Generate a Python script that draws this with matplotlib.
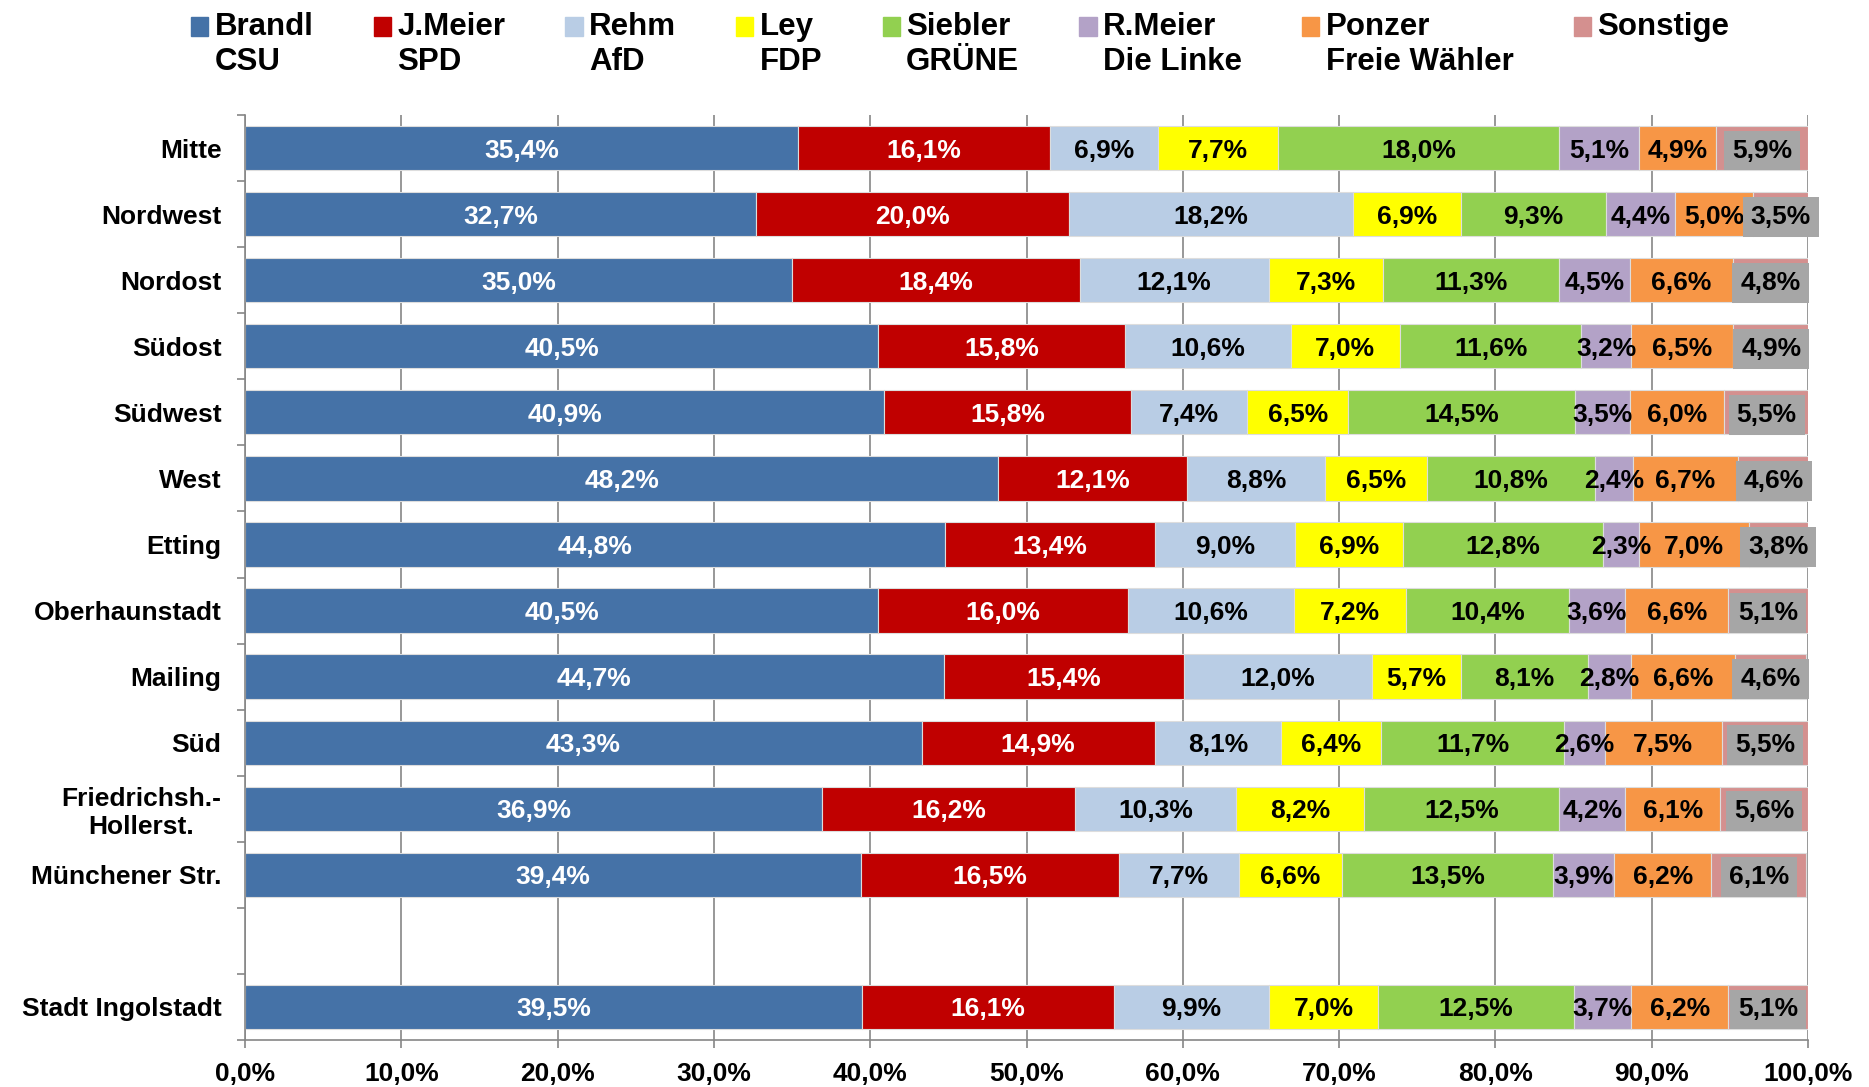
import numpy as np
import matplotlib.pyplot as plt
from matplotlib.patches import Rectangle
from matplotlib.legend_handler import HandlerPatch

plt.rcParams['font.family'] = ['Liberation Sans', 'DejaVu Sans']
plt.rcParams['font.weight'] = 'bold'

# Daten (Stimmanteile in %)
bezirke = ["Mitte", "Nordwest", "Nordost", "Südost", "Südwest", "West", "Etting",
           "Oberhaunstadt", "Mailing", "Süd", "Friedrichsh.-\nHollerst.",
           "Münchener Str.", "Stadt Ingolstadt"]
y_pos = [0, 1, 2, 3, 4, 5, 6, 7, 8, 9, 10, 11, 13]

kandidaten = ["Brandl\nCSU", "J.Meier\nSPD", "Rehm\nAfD", "Ley\nFDP", "Siebler\nGRÜNE",
              "R.Meier\nDie Linke", "Ponzer\nFreie Wähler", "Sonstige\n"]

brandl   = [35.4, 32.7, 35.0, 40.5, 40.9, 48.2, 44.8, 40.5, 44.7, 43.3, 36.9, 39.4, 39.5]
j_meier  = [16.1, 20.0, 18.4, 15.8, 15.8, 12.1, 13.4, 16.0, 15.4, 14.9, 16.2, 16.5, 16.1]
rehm     = [6.9, 18.2, 12.1, 10.6, 7.4, 8.8, 9.0, 10.6, 12.0, 8.1, 10.3, 7.7, 9.9]
ley      = [7.7, 6.9, 7.3, 7.0, 6.5, 6.5, 6.9, 7.2, 5.7, 6.4, 8.2, 6.6, 7.0]
siebler  = [18.0, 9.3, 11.3, 11.6, 14.5, 10.8, 12.8, 10.4, 8.1, 11.7, 12.5, 13.5, 12.5]
r_meier  = [5.1, 4.4, 4.5, 3.2, 3.5, 2.4, 2.3, 3.6, 2.8, 2.6, 4.2, 3.9, 3.7]
ponzer   = [4.9, 5.0, 6.6, 6.5, 6.0, 6.7, 7.0, 6.6, 6.6, 7.5, 6.1, 6.2, 6.2]
sonstige = [5.9, 3.5, 4.8, 4.9, 5.5, 4.6, 3.8, 5.1, 4.6, 5.5, 5.6, 6.1, 5.1]

serien = [brandl, j_meier, rehm, ley, siebler, r_meier, ponzer, sonstige]
farben = ['#4572A7', '#C00000', '#B9CDE5', '#FFFF00', '#92D050', '#B3A2C7', '#F79646', '#D4908F']
textfarben = ['white', 'white', 'black', 'black', 'black', 'black', 'black', 'black']

fig = plt.figure(figsize=(18.69, 10.87), dpi=100)
ax = fig.add_axes([245 / 1869, 1 - 1040 / 1087, (1808 - 245) / 1869, (1040 - 115) / 1087])

links = np.zeros(len(bezirke))
for werte, farbe, tf in zip(serien, farben, textfarben):
    werte = np.array(werte)
    ax.barh(y_pos, werte, left=links, height=0.67, color=farbe,
            edgecolor='#DDDDDD', linewidth=0.8, zorder=2)
    for y, l, w in zip(y_pos, links, werte):
        txt = f"{w:.1f}%".replace('.', ',')
        box = None
        if farbe == '#D4908F':
            # Sonstige: Beschriftung mit grauem Hintergrund
            box = dict(boxstyle='square,pad=0.3', facecolor='#A6A6A6', edgecolor='none')
        ax.text(l + w / 2, y, txt, ha='center', va='center_baseline', fontsize=19,
                color=tf, zorder=4, clip_on=False, bbox=box)
    links = links + werte

# Achsen
ax.set_xlim(0, 100)
ax.set_ylim(13.5, -0.5)
ax.set_xticks(np.arange(0, 101, 10))
ax.set_xticklabels([f"{v:.1f}%".replace('.', ',') for v in np.arange(0, 101, 10)], fontsize=19)
ax.set_yticks(y_pos)
ax.set_yticklabels(bezirke, fontsize=19)
for lab in ax.get_yticklabels():
    lab.set_multialignment('center')
ax.set_yticks(np.arange(-0.5, 14, 1), minor=True)
ax.tick_params(axis='y', which='major', length=0, pad=17)
ax.tick_params(axis='y', which='minor', length=6, width=1.2, color='#868686')
ax.tick_params(axis='x', length=6, width=1.2, color='#868686', pad=10)

ax.grid(axis='x', color='#868686', linewidth=1.2, zorder=0)
ax.set_axisbelow(True)
for s in ['top', 'right']:
    ax.spines[s].set_visible(False)
for s in ['left', 'bottom']:
    ax.spines[s].set_color('#868686')
    ax.spines[s].set_linewidth(1.2)


# Legende: Quadrat auf Höhe der ersten Zeile
def quadrat(legend, orig_handle, xdescent, ydescent, width, height, fontsize):
    return Rectangle((-xdescent, -ydescent + 0.58 * fontsize), width, height)


handles = [Rectangle((0, 0), 1, 1, color=c) for c in farben]
fig.legend(handles, kandidaten, loc='upper left', bbox_to_anchor=(191 / 1869, 0.989),
           ncol=8, frameon=False, fontsize=22.5, handlelength=0.55, handleheight=0.55,
           handletextpad=0.2, columnspacing=1.93, borderpad=0, borderaxespad=0,
           labelspacing=0, handler_map={Rectangle: HandlerPatch(patch_func=quadrat)})

plt.savefig("out.png", dpi=100)
